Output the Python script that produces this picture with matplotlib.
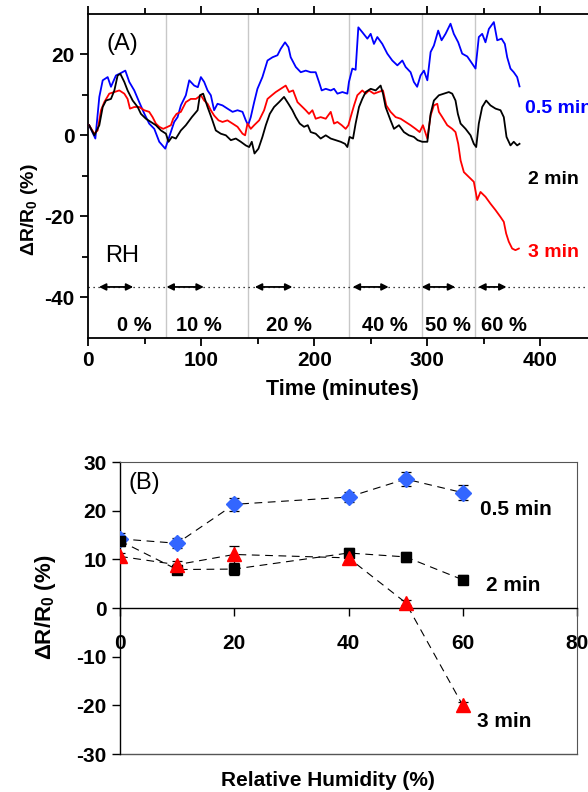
import matplotlib
matplotlib.use('Agg')
import matplotlib.pyplot as plt
import numpy as np
import matplotlib as mpl

mpl.rcParams['font.family'] = ['Liberation Sans', 'DejaVu Sans']
mpl.rcParams['mathtext.fontset'] = 'custom'
mpl.rcParams['mathtext.rm'] = 'Liberation Sans'
mpl.rcParams['mathtext.bf'] = 'Liberation Sans:bold'
mpl.rcParams['mathtext.it'] = 'Liberation Sans:italic'
mpl.rcParams['axes.unicode_minus'] = False

# ---- panel A: response vs time ----
t_05 = [1, 6.5, 10, 13, 17.4, 20.3, 24.7, 27.7, 33, 36.5, 40.9, 45.3, 49.7, 54.1, 58.6, 63, 68.3,
        71.8, 76.2, 79.2, 82.1, 86.5, 89.5, 93.9, 97.1, 99.8, 102.7, 105.7, 108.6, 111.5, 114.5,
        118.9, 123.3, 127.8, 132.2, 136.6, 139.5, 141.6, 143.9, 146.9, 149.8, 154.2, 158.7, 163.1,
        167.5, 170.4, 174.2, 177.2, 179.2, 183.7, 188.1, 192.5, 196.9, 201.3, 204.2, 206.6, 210.2,
        214.6, 217.5, 220.5, 224.9, 229.3, 230.7, 233.7, 236.6, 239, 242.5, 247, 249.9, 252.8,
        255.8, 260.2, 264.6, 269, 273.5, 277.9, 280.8, 285.2, 288.1, 291, 294, 297, 300, 302.9,
        305.8, 309.6, 312.6, 316.1, 320.5, 323.4, 327.3, 330.8, 335.3, 339.7, 342.6, 345.5, 348.5,
        351.4, 354.4, 358.8, 361.8, 365.6, 368.5, 370.6, 373.5, 376.4, 379.4, 381.5]
v_05 = [2.5, -0.8, 9.5, 13.6, 14.4, 12, 14.8, 15.2, 16, 13.2, 11.1, 8.2, 5.4, 2.9, 1.6, -1.6, -3.3,
        -0.4, 3.3, 4.5, 7.4, 9.9, 13.6, 12.3, 11.9, 14.4, 13.2, 11.1, 9.9, 6.2, 7.8,
        7.4, 6.6, 5.8, 6.2, 5.8, 3.7, 2.5, 4.5, 8.2, 11.5, 14.4, 18.5, 19.3,
        19.8, 21.4, 23, 21.8, 19.3, 16.9, 15.6, 16.0, 15.6, 15.6, 13.2, 11.1, 11.5,
        11.1, 11.5, 10.3, 10.7, 10.3, 13.2, 16.5, 16.2, 26.7, 25.5, 23.9, 25.1, 22.6,
        24.3, 22.6, 20.2, 18.5, 17.3, 18.5, 16.9, 15.6, 13.2, 12.0, 14.8, 16.0, 13.6, 20.6,
        22.2, 25.9, 23.5, 25.1, 27.6, 25.1, 23.0, 20.2, 19.5, 17.7, 16.5, 24.3, 25.1,
        23.0, 26.3, 28.0, 23.5, 23.9, 22.6, 19.3, 16.5, 15.6, 14.4, 12.1]

t_2 = [1, 5.6, 10, 13, 15.9, 20.3, 23.3, 26.2, 28.6, 32.1, 35, 39.5, 43.9, 46.8, 51.2, 55.6, 60,
       64.5, 68.9, 71.2, 74.2, 77.7, 82.1, 86.5, 91.8, 96.9, 98.9, 101.8, 105.7, 109.5, 113,
       117.4, 121.9, 126.3, 130.7, 135.1, 139.5, 142.5, 144.8, 147.2, 150.7, 154.2, 157.2, 160.7,
       164.5, 168.9, 173.3, 177.2, 180.7, 183.7, 187.2, 191, 194.3, 196.9, 201.3, 205.7, 210.2,
       214.6, 219, 223.4, 227.2, 229.3, 231.3, 234.3, 236.6, 239.6, 242.5, 245.5, 249.9, 254.3,
       258.7, 260.8, 263.1, 267.5, 270.5, 274.9, 279.3, 283.7, 288.1, 291.4, 295.5, 300, 302.9,
       305.8, 310.2, 314.6, 319, 322, 324.9, 327, 329.4, 333.8, 338.2, 341.1, 343.2, 345.5,
       348.5, 352, 355.8, 360.3, 364.7, 367.6, 370, 373.5, 376.4, 379.4, 381.5]
v_2 = [2.5, 0, 2.5, 7, 8.6, 9, 11.1, 14.8, 15.2, 13.2, 11.1, 8.6, 7, 5.3, 4.1, 3.3, 2.5,
       1.2, 0.4, -1.6, -0.4, -0.8, 1.2, 2.5, 4.5, 6.2, 9.9, 10.3, 7, 4.1, 1.2,
       0.4, 0, -1.2, -0.8, -1.6, -2.5, -2.9, -1.6, -4.5, -3.3, -0.4, 2.5, 5.3,
       7, 8.2, 9.5, 7.8, 6.2, 4.5, 2.9, 2.1, 2.5, 0.8, 0.4, -0.8, 0,
       -0.8, -1.2, -1.6, -2.1, -2.9, -0.4, -0.8, 2.9, 7, 9, 10.7, 11.5, 11.1,
       12.3, 10.3, 7, 3.7, 1.6, 2.5, 0.8, 0, -0.4, -1.2, -1.6, -1.6, 5.3,
       8.6, 9.9, 10.3, 10.7, 10.3, 8.6, 5.3, 2.9, 1.6, 0, -2.1, -2.9, 2.9,
       7, 8.6, 7.4, 6.6, 6.2, 4.5, -0.4, -2.5, -1.6, -2.5, -2.1]

t_3 = [1, 5.6, 8.5, 11.5, 14.4, 18.8, 23.3, 27.7, 32.1, 35, 37.1, 40.9, 45.3, 49.7, 54.1, 57.1,
       60, 63, 66.5, 70.4, 73.3, 75.3, 78.3, 82.1, 86.5, 90.9, 95.4, 99.8, 102.7, 105.7, 108.6,
       111.5, 115.4, 118.9, 123.3, 127.8, 132.2, 136.6, 138.9, 141, 143.9, 146.9, 151.3, 155.7,
       158.7, 162.5, 166, 170.4, 174.8, 177.8, 181.3, 185.2, 189.6, 192.5, 195.4, 198.4, 201.3,
       205.7, 210.2, 214.6, 217.5, 220.5, 224.3, 227.8, 230.2, 232.2, 235.2, 238.1, 242.5, 245.5,
       248.4, 252.8, 256.7, 260.8, 263.7, 267.5, 272, 276.4, 280.8, 285.2, 289.6, 293.2, 296.1,
       300, 302.9, 305.8, 308.8, 310.2, 313.2, 317.6, 322, 324.9, 327.3, 329.4, 332.3, 336.7,
       341.1, 344.1, 347, 351.4, 355.8, 360.3, 364.7, 367.6, 369.7, 372, 375, 377.9, 380.9]
v_3 = [2.5, 0.4, 1.2, 6.2, 8.2, 10.3, 10.7, 11.1, 10.3, 9, 6.6, 7, 7, 6.2, 5.8, 4.5,
       2.9, 2.1, 1.6, 2.1, 2.5, 4.1, 5.3, 5.8, 8.2, 9, 9, 9.9, 8.6, 7.8, 6.2,
       4.9, 3.7, 3.3, 3.7, 2.9, 2.1, 0.4, 0, 2.9, 1.6, 2.5, 3.7, 6.2,
       9, 9.9, 10.7, 11.5, 12.3, 10.7, 11.1, 8.2, 7, 6.2, 5.3, 6.2, 4.1,
       4.5, 4.1, 5.8, 2.9, 3.3, 2.5, 1.6, 2.5, 4.5, 7.4, 9.9, 11.1, 10.3,
       11.1, 10.3, 10.7, 11.1, 7.4, 5.8, 4.5, 4.1, 3.3, 2.5, 1.6, 0.8, 2.5,
       -0.8, 4.9, 7.4, 7.8, 5.8, 4.5, 2.5, 1.6, 0.8, -2.1, -6.2, -9.1, -10.3,
       -11.5, -16, -14, -15.2, -16.9, -18.5, -20.2, -21.4, -24.3, -26.3, -28, -28.4, -28]

step_times = [68.6, 141.5, 230.5, 295.2, 341.7]
arrow_start = [9.7, 69.4, 147.5, 234, 295, 345]
arrow_end = [40, 102.4, 180.7, 265.8, 324.6, 370]
rh_names = ['0 %', '10 %', '20 %', '40 %', '50 %', '60 %']
rh_label_x = [41, 98, 178, 262.7, 318, 368]

# ---- panel B: response vs relative humidity ----
rh = [0, 10, 20, 40, 50, 60]
b_05 = [14.2, 13.3, 21.3, 22.8, 26.5, 23.7]
b_05_err = [1.2, 1.0, 1.4, 1.0, 1.4, 1.6]
b_2 = [13.8, 7.9, 8.0, 11.3, 10.5, 5.8]
b_2_err = [1.0, 1.0, 1.3, 1.0, 1.0, 0.9]
b_3 = [10.6, 8.9, 11.0, 10.3, 1.1, -20.0]
b_3_err = [0.8, 0.8, 1.8, 1.2, 0.5, 0.6]

fig = plt.figure(figsize=(5.88, 7.92), dpi=100)

# ---------------- (A) ----------------
axA = fig.add_axes([88 / 588, 1 - 337.5 / 792, 509 / 588, 323.5 / 792])
for ts in step_times:
    axA.axvline(ts, color='#c8c8c8', lw=1, zorder=1)
axA.plot(t_05, v_05, color='#0000ff', lw=1.3, zorder=3)
axA.plot(t_3, v_3, color='#ff0000', lw=1.3, zorder=3)
axA.plot(t_2, v_2, color='black', lw=1.3, zorder=3)
axA.axhline(-37.5, color='black', ls=(0, (1, 3)), lw=0.9, zorder=2)
for a0, a1 in zip(arrow_start, arrow_end):
    axA.annotate('', xy=(a1, -37.5), xytext=(a0, -37.5),
                 arrowprops=dict(arrowstyle='<|-|>', color='black', lw=1.3,
                                 mutation_scale=10, shrinkA=0, shrinkB=0))
for name, xx in zip(rh_names, rh_label_x):
    axA.text(xx, -47, name, ha='center', va='center', fontsize=14.5, fontweight='bold')
axA.text(15, -29.8, 'RH', fontsize=17, va='center')
axA.text(16, 22.7, '(A)', fontsize=17, va='center')
axA.text(386, 6.7, '0.5 min', color='#0000ff', fontsize=14, fontweight='bold', va='center')
axA.text(389, -11, '2 min', color='black', fontsize=14, fontweight='bold', va='center')
axA.text(389, -29, '3 min', color='#ff0000', fontsize=14, fontweight='bold', va='center')

axA.set_xlim(0, 450)
axA.set_ylim(-50, 30)
axA.set_xticks([0, 100, 200, 300, 400])
axA.set_xticks([50, 150, 250, 350], minor=True)
axA.set_yticks([-40, -20, 0, 20])
axA.set_yticks([-30, -10, 10], minor=True)
axA.spines['right'].set_visible(False)
for s in axA.spines.values():
    s.set_linewidth(1.3)
axA.tick_params(axis='both', which='major', length=6, width=1.3, labelsize=15, direction='out')
axA.tick_params(axis='both', which='minor', length=4, width=1.3, direction='out')
axA.tick_params(axis='x', which='both', top=True)
for lab in axA.get_xticklabels() + axA.get_yticklabels():
    lab.set_fontweight('bold')
axA.set_xlabel('Time (minutes)', fontsize=15.5, fontweight='bold', labelpad=7)
fig.text(30 / 588, 1 - 210 / 792, r'ΔR/R$_\mathbf{0}$ (%)', rotation=90, ha='center', va='center',
         fontsize=14, fontweight='bold')

# ---------------- (B) ----------------
axB = fig.add_axes([120 / 588, 38 / 792, 457 / 588, 292 / 792])
dash = (0, (7, 5))
axB.errorbar(rh, b_05, yerr=b_05_err, fmt='D', color='#3366ff', ms=8, ecolor='black',
             elinewidth=0.9, capsize=3.5, capthick=0.9, zorder=4)
axB.errorbar(rh, b_2, yerr=b_2_err, fmt='s', color='black', ms=7, ecolor='black',
             elinewidth=0.9, capsize=3.5, capthick=0.9, zorder=4)
axB.errorbar(rh, b_3, yerr=b_3_err, fmt='^', color='#ff0000', ms=10, ecolor='black',
             elinewidth=0.9, capsize=3.5, capthick=0.9, zorder=4)
for yy in (b_05, b_2, b_3):
    axB.plot(rh, yy, color='black', lw=0.8, ls=dash, zorder=3)
axB.text(63, 20.3, '0.5 min', fontsize=15, fontweight='bold', va='center')
axB.text(64, 4.6, '2 min', fontsize=15, fontweight='bold', va='center')
axB.text(62.5, -23.3, '3 min', fontsize=15, fontweight='bold', va='center')
axB.text(1.5, 25.7, '(B)', fontsize=17, va='center')

axB.set_xlim(0, 80)
axB.set_ylim(-30, 30)
axB.set_xticks([0, 20, 40, 60, 80])
axB.set_yticks([-30, -20, -10, 0, 10, 20, 30])
axB.spines['bottom'].set_position(('data', 0))
axB.spines['bottom'].set_linewidth(1.0)
axB.spines['left'].set_linewidth(1.0)
axB.spines['top'].set_color('#555555')
axB.spines['right'].set_color('#555555')
axB.plot([0, 1], [0, 0], transform=axB.transAxes, color='#555555', lw=1.0, clip_on=False)
axB.tick_params(axis='both', length=6, width=1.0, labelsize=15, direction='out')
axB.tick_params(axis='x', pad=13)
for lab in axB.get_xticklabels() + axB.get_yticklabels():
    lab.set_fontweight('bold')
fig.text(328 / 588, 1 - 780 / 792, 'Relative Humidity (%)', ha='center', va='center',
         fontsize=15, fontweight='bold')
fig.text(45 / 588, 1 - 607 / 792, r'ΔR/R$_\mathbf{0}$ (%)', rotation=90, ha='center', va='center',
         fontsize=16, fontweight='bold')

fig.savefig('out.png', dpi=100)
